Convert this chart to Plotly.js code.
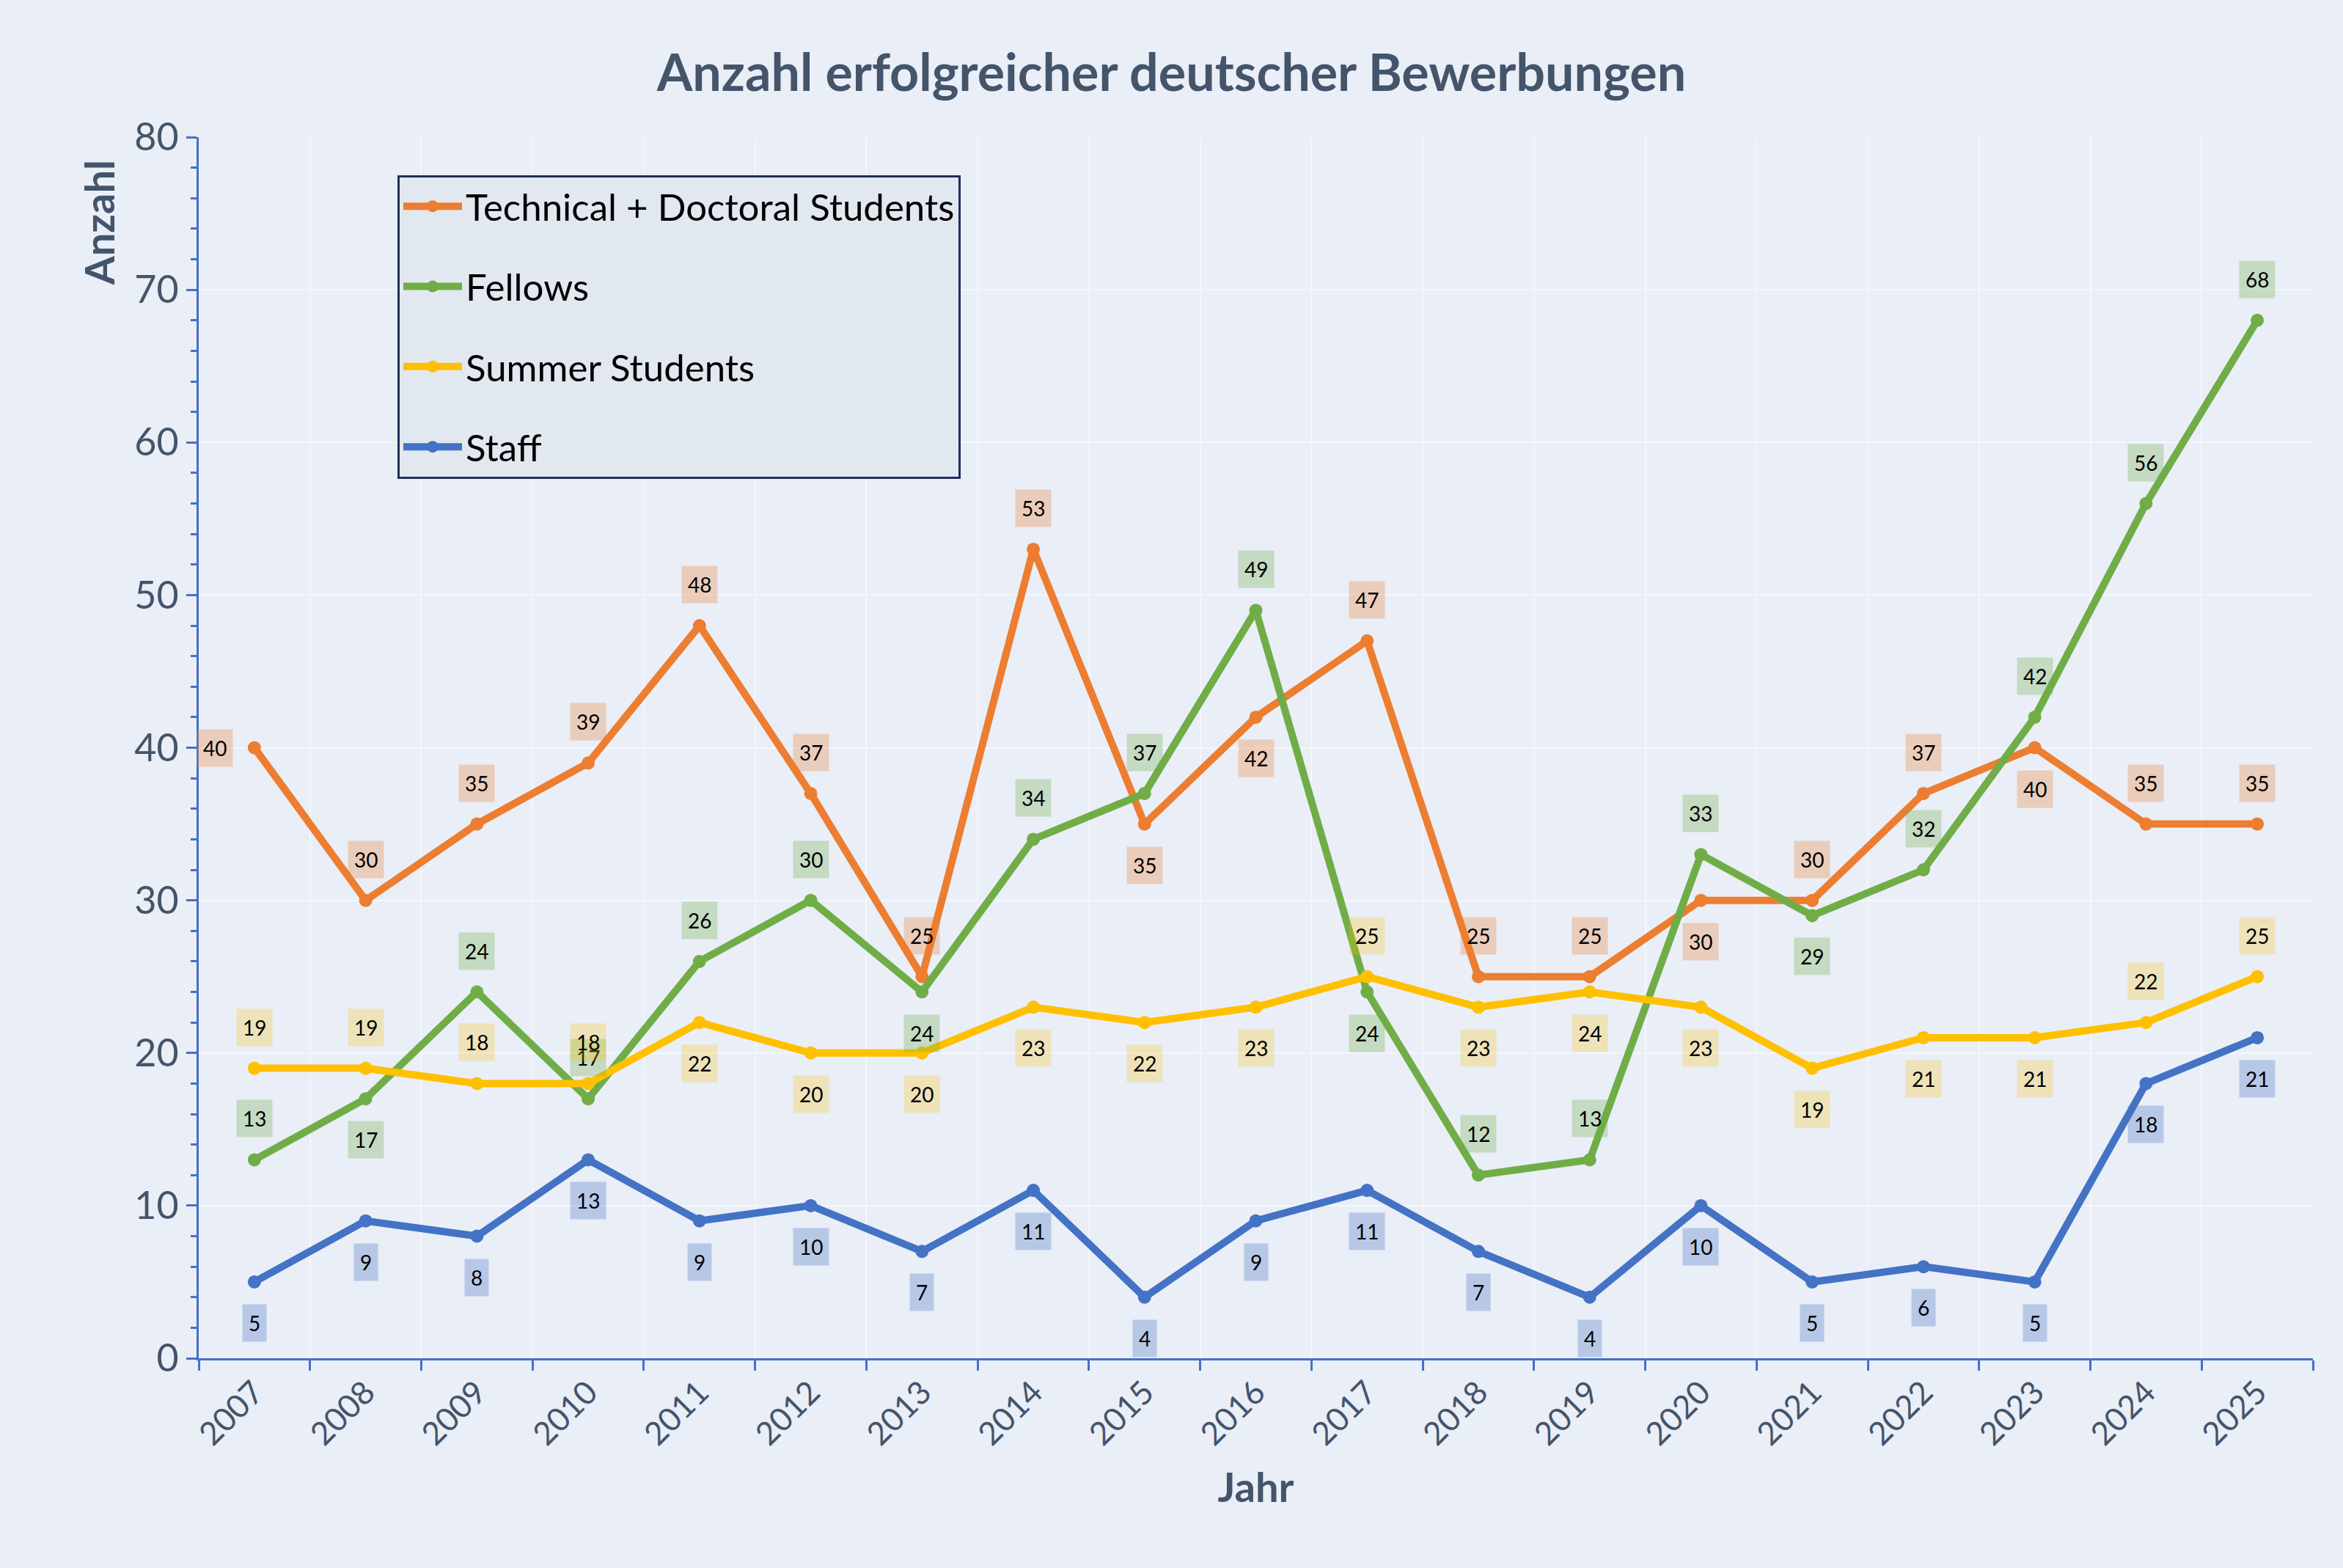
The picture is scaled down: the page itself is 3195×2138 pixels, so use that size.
<!DOCTYPE html>
<html>
<head>
<meta charset="utf-8">
<script src="https://cdn.plot.ly/plotly-3.0.1.min.js"></script>
<style>body{margin:0;background:#E9EEF7;}</style>
</head>
<body>
<div id="chart" style="width:3195px;height:2138px;"></div>
<script>
// years on the x axis
const years = ['2007','2008','2009','2010','2011','2012','2013','2014','2015','2016','2017','2018','2019','2020','2021','2022','2023','2024','2025'];

// values
const technical = [40,30,35,39,48,37,25,53,35,42,47,25,25,30,30,37,40,35,35];
const fellows   = [13,17,24,17,26,30,24,34,37,49,24,12,13,33,29,32,42,56,68];
const summer    = [19,19,18,18,22,20,20,23,22,23,25,23,24,23,19,21,21,22,25];
const staff     = [5,9,8,13,9,10,7,11,4,9,11,7,4,10,5,6,5,18,21];

// where each data label sits (a = above, b = below, l = left)
const technicalSide = ['l','a','a','a','a','a','a','a','b','b','a','a','a','b','a','a','b','a','a'];
const fellowsSide   = ['a','b','a','a','a','a','b','a','a','a','b','a','a','a','b','a','a','a','a'];
const summerSide    = ['a','a','a','a','b','b','b','b','b','b','a','b','b','b','b','b','b','a','a'];
const staffSide     = ['b','b','b','b','b','b','b','b','b','b','b','b','b','b','b','b','b','b','b'];

const series = [
  {name: 'Technical + Doctoral Students', y: technical, side: technicalSide, color: '#ED7D31', bg: 'rgba(237,125,49,0.3)'},
  {name: 'Fellows', y: fellows, side: fellowsSide, color: '#70AD47', bg: 'rgba(112,173,71,0.3)'},
  {name: 'Summer Students', y: summer, side: summerSide, color: '#FFC000', bg: 'rgba(255,192,0,0.25)'},
  {name: 'Staff', y: staff, side: staffSide, color: '#4472C4', bg: 'rgba(68,114,196,0.3)'}
];

const textGrey = '#44546A';
const axisBlue = '#4472C4';

let data = [];
let annotations = [];
series.forEach(function(s, k) {
  data.push({
    x: years, y: s.y, name: s.name, type: 'scatter', mode: 'lines+markers',
    legendgroup: 'g' + k,
    line: {color: s.color, width: 10},
    marker: {color: s.color, size: 18}
  });
  for (let i = 0; i < years.length; i++) {
    let side = s.side[i];
    annotations.push({
      x: i, y: s.y[i], xref: 'x', yref: 'y', text: String(s.y[i]),
      showarrow: false, bgcolor: s.bg, borderpad: 8,
      font: {family: 'Lato, Open Sans, sans-serif', size: 28, color: '#000'},
      xshift: side == 'l' ? -54 : 0,
      yshift: side == 'a' ? 56 : (side == 'b' ? -56 : 0)
    });
  }
});

// y axis title sits at the top left, as in the original
annotations.push({
  xref: 'paper', yref: 'paper', x: -0.035, y: 0.93, xanchor: 'right', yanchor: 'middle',
  text: '<b>Anzahl</b>', textangle: -90, showarrow: false,
  font: {size: 56, color: textGrey}
});

const layout = {
  width: 3195, height: 2138,
  paper_bgcolor: '#E9EEF7', plot_bgcolor: '#E9EEF7',
  margin: {l: 271, r: 41, t: 187, b: 286},
  font: {family: 'Lato, Open Sans, sans-serif', color: textGrey},
  title: {text: '<b>Anzahl erfolgreicher deutscher Bewerbungen</b>', font: {size: 70, color: textGrey}, x: 0.5, y: 0.965},
  showlegend: true,
  xaxis: {
    type: 'category', tickson: 'boundaries', ticks: 'outside', ticklen: 14, tickcolor: axisBlue, tickwidth: 3,
    tickangle: -45, tickfont: {size: 44, color: textGrey},
    showline: true, linecolor: axisBlue, linewidth: 3,
    showgrid: true, gridcolor: '#F4F6FB', gridwidth: 2,
    range: [-0.5, 18.5],
    title: {text: '<b>Jahr</b>', font: {size: 56, color: textGrey}, standoff: 30}
  },
  yaxis: {
    range: [0, 80], dtick: 10, ticks: 'outside', ticklen: 14, tickcolor: axisBlue, tickwidth: 3,
    minor: {dtick: 2, ticks: 'outside', ticklen: 8, tickcolor: axisBlue, showgrid: false},
    tickfont: {size: 52, color: textGrey},
    showline: true, linecolor: axisBlue, linewidth: 3,
    showgrid: true, gridcolor: '#F4F6FB', gridwidth: 2, zeroline: false
  },
  legend: {
    x: 0.094, y: 0.969, xanchor: 'left', yanchor: 'top',
    bgcolor: 'rgba(225,230,238,0.85)', bordercolor: '#1F2E5C', borderwidth: 3,
    font: {size: 51, color: '#000'}, tracegroupgap: 40, itemwidth: 80
  },
  annotations: annotations
};

Plotly.newPlot('chart', data, layout, {staticPlot: true});
</script>
</body>
</html>
